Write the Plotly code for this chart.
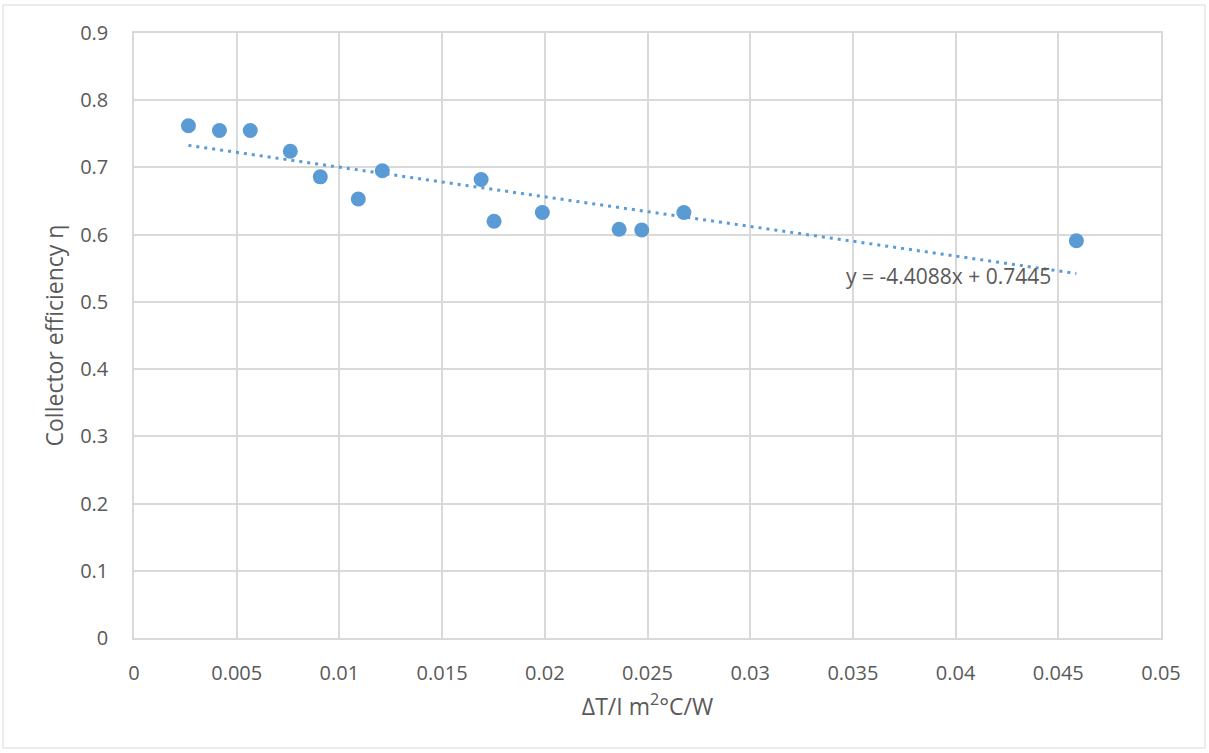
import plotly.graph_objects as go

# Data
dT_over_I = [0.00265, 0.00416, 0.00566, 0.00761, 0.00907, 0.01092, 0.01209,
             0.01690, 0.01753, 0.01988, 0.02362, 0.02472, 0.02677, 0.04588]
efficiency = [0.762, 0.755, 0.755, 0.724, 0.686, 0.653, 0.695,
              0.682, 0.620, 0.633, 0.608, 0.607, 0.633, 0.591]
trend_slope = -4.4088
trend_intercept = 0.7445
trend_label = "y = -4.4088x + 0.7445"

x_ticks = [0, 0.005, 0.01, 0.015, 0.02, 0.025, 0.03, 0.035, 0.04, 0.045, 0.05]
x_tick_text = ["0", "0.005", "0.01", "0.015", "0.02", "0.025", "0.03", "0.035", "0.04", "0.045", "0.05"]
y_ticks = [0, 0.1, 0.2, 0.3, 0.4, 0.5, 0.6, 0.7, 0.8, 0.9]
y_tick_text = ["0", "0.1", "0.2", "0.3", "0.4", "0.5", "0.6", "0.7", "0.8", "0.9"]

blue = "#5B9BD5"
grid = "#D9D9D9"
text_col = "#595959"
font_family = "'Open Sans', sans-serif"

trend_x = [min(dT_over_I), max(dT_over_I)]
trend_y = [trend_slope * v + trend_intercept for v in trend_x]

fig = go.Figure()
fig.add_trace(go.Scatter(
    x=trend_x, y=trend_y, mode="lines",
    line=dict(color=blue, width=3, dash="3px,5px"),
    hoverinfo="skip", showlegend=False))
fig.add_trace(go.Scatter(
    x=dT_over_I, y=efficiency, mode="markers",
    marker=dict(color=blue, size=15, line=dict(width=0)),
    showlegend=False))

fig.add_annotation(x=0.03963, y=0.5385, xref="x", yref="y", text=trend_label,
                   showarrow=False, font=dict(size=21, color=text_col, family=font_family))

fig.update_layout(
    width=1209, height=753,
    margin=dict(l=134, r=48, t=33, b=115),
    paper_bgcolor="white", plot_bgcolor="white",
    font=dict(family=font_family, color=text_col, size=20),
    xaxis=dict(range=[0, 0.05], tickvals=x_ticks, ticktext=x_tick_text,
               showgrid=True, gridcolor=grid, gridwidth=1.5,
               zeroline=False, showline=True, linecolor=grid, linewidth=1.5, mirror=True,
               ticks="outside", ticklen=16, tickcolor="rgba(0,0,0,0)",
               tickfont=dict(size=20, color=text_col),
               title=dict(text="ΔT/I m<sup>2</sup>°C/W", font=dict(size=23, color=text_col), standoff=14)),
    yaxis=dict(range=[0, 0.9], tickvals=y_ticks, ticktext=y_tick_text,
               showgrid=True, gridcolor=grid, gridwidth=1.5,
               zeroline=False, showline=True, linecolor=grid, linewidth=1.5, mirror=True,
               ticks="outside", ticklen=20, tickcolor="rgba(0,0,0,0)",
               tickfont=dict(size=20, color=text_col),
               title=dict(text="Collector efficiency η", font=dict(size=23, color=text_col), standoff=10)),
)

# outer chart border
fig.add_shape(type="rect", xref="paper", yref="paper",
              x0=(3 - 134) / 1027, x1=(1205 - 134) / 1027,
              y0=-(748 - 638) / 605, y1=1 + (33 - 5) / 605,
              line=dict(color=grid, width=1), fillcolor="rgba(0,0,0,0)", layer="below")

fig.write_html("out.html")
